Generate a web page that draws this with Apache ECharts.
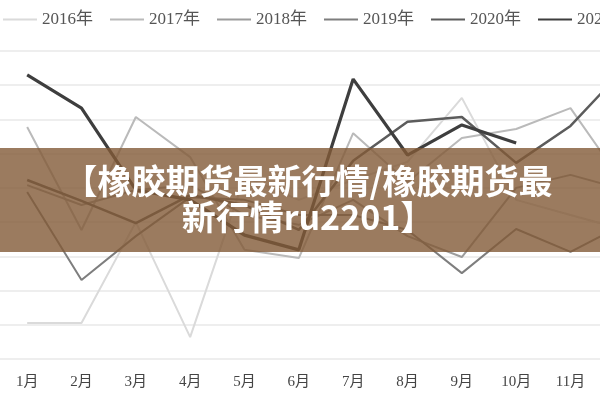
<!DOCTYPE html>
<html><head><meta charset="utf-8">
<script src="https://cdn.jsdelivr.net/npm/echarts@6/dist/echarts.min.js"></script>
<style>html,body{margin:0;padding:0;background:#fff}#c{width:600px;height:400px}</style>
</head><body><div id="c"></div>
<script>
const months = ['1月','2月','3月','4月','5月','6月','7月','8月','9月','10月','11月','12月'];
const years = ['2016年','2017年','2018年','2019年','2020年','2021年'];
const colors = ['#dadada','#bababa','#9c9c9c','#7e7e7e','#5c5c5c','#3e3e3e'];
const widths = [2,2,2,2,2.5,3.2];
const s2016 = [10.5,10.5,40.0,6.4,53.2,46.5,52.3,57.6,76.3,46.5,42.1,37.7];
const s2017 = [67.8,37.7,70.7,59.0,31.9,29.5,66.0,51.7,64.6,67.2,73.3,50.6];
const s2018 = [50.8,45.0,49.4,50.8,42.1,39.2,46.5,35.9,29.8,50.0,53.8,49.4];
const s2019 = [48.8,23.1,35.9,47.3,46.5,42.1,42.1,37.7,25.1,38.0,31.3,39.5];
const s2020 = [52.3,46.2,39.7,47.9,45.0,37.7,57.9,69.3,70.7,57.3,68.1,85.0];
const s2021 = [83.0,73.3,49.4,46.5,36.2,31.9,81.8,59.6,68.4,63.1,null,null];
const data = [s2016,s2017,s2018,s2019,s2020,s2021];
const chart = echarts.init(document.getElementById('c'));
chart.setOption({
  animation:false,
  legend:{left:-2,top:6,width:800,itemWidth:34,itemHeight:2,itemGap:17,icon:'rect',
    textStyle:{fontFamily:'Liberation Serif, Noto Sans CJK SC',fontSize:17,color:'#555'},
    data:years},
  grid:{left:0,top:51,right:-52,bottom:41,outerBoundsMode:'none',containLabel:false},
  xAxis:{type:'category',data:months,boundaryGap:true,
    axisLine:{show:false},axisTick:{show:false},
    axisLabel:{margin:16,fontFamily:'Liberation Serif, Noto Sans CJK SC',fontSize:15,color:'#444'}},
  yAxis:{type:'value',min:0,max:90,interval:10,axisLabel:{show:false},
    axisLine:{show:false},axisTick:{show:false},
    splitLine:{lineStyle:{color:'#e8e8e8',width:1.5}}},
  series: years.map((y,i)=>({name:y,type:'line',data:data[i],symbol:'none',
    lineStyle:{color:colors[i],width:widths[i]},itemStyle:{color:colors[i]},z:2+i})),
  graphic:[
    {type:'rect',left:0,top:148,shape:{width:600,height:104},style:{fill:'rgba(130,90,55,0.8)'},z:100},
    {type:'text',x:308,y:163,z:101,style:{text:'【橡胶期货最新行情/橡胶期货最\n新行情ru2201】',
      fill:'#fff',font:'bold 34px "Noto Sans CJK SC"',textAlign:'center',lineHeight:36}}
  ]
});
</script></body></html>
